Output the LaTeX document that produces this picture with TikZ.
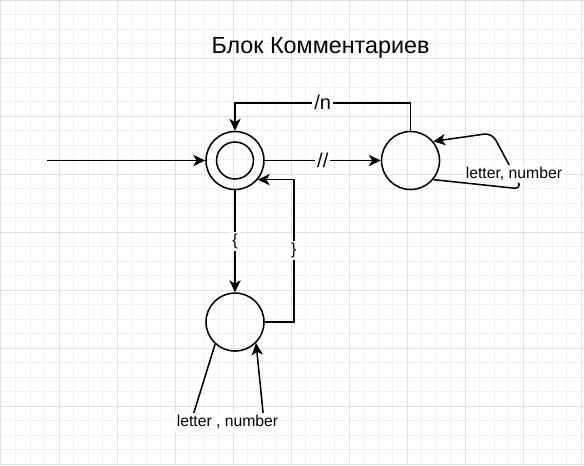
\documentclass[tikz,border=0pt]{standalone}
\usepackage{fontspec}
\setmainfont{Liberation Sans}
\usetikzlibrary{positioning, arrows.meta}

\begin{document}
\begin{tikzpicture}[
    x=0.75pt, y=-0.75pt,
    font=\fontsize{11.8pt}{14pt}\selectfont,
    st/.style={draw, circle, minimum size=43.5pt, inner sep=0pt, line width=1.15pt},
    ar/.style={-{Stealth[length=9pt, width=8.5pt, inset=2.5pt]}, line width=1.15pt},
    lbl/.style={fill=white, inner sep=1.5pt},
    big/.style={font=\fontsize{15pt}{17pt}\selectfont},
    minorgrid/.style={draw=black!6, line width=0.75pt, step=10.875pt},
    majorgrid/.style={draw=black!12, line width=0.75pt, step=43.5pt},
    node distance=76.5pt and 87pt,
  ]
  \useasboundingbox[fill=white] (-1,0) rectangle (583,465);
  % background grid
  \draw[minorgrid] (-1,0) grid (583,465);
  \draw[majorgrid] (-1,0) grid (583,465);

  \node[anchor=base, font=\fontsize{17.5pt}{20pt}\selectfont] (title) at (319.5,53) {Блок Комментариев};

  \node[st] (start) at (234,160.5) {};
  \node[st, minimum size=27.75pt] (starti) at (start) {};
  \node[st, right=of start] (acc) {};
  \node[st, below=of start] (bot) {};

  \coordinate (in) at (46,160.5);
  \coordinate (accloopa) at (521,189);
  \coordinate (accloopb) at (491,133);
  \coordinate (botloopa) at (190,422);
  \coordinate (botloopb) at (263,422);

  \draw[ar] (in) -- (start);
  \draw[ar] (start) -- node[lbl, big] {//} (acc);
  \draw[ar] (acc.north) -- ++(0,-28) -| node[lbl, big, pos=0.25] {/n} (start.north);
  \draw[ar] (start) -- node[lbl, font=\fontsize{12pt}{14pt}\selectfont] {\{} (bot);
  \draw[ar] (bot.east) -- ++(29,0) |- node[lbl, pos=0.25, font=\fontsize{12pt}{14pt}\selectfont] {\}} (start.-40);
  \draw[ar, rounded corners=6pt] (acc.-40) -- (accloopa) -- node[lbl, pos=0.27] {letter, number} (accloopb) -- (acc.40);
  \draw[ar] (bot.-132) -- (botloopa) -- node[lbl] {letter , number} (botloopb) -- (bot.-45);
\end{tikzpicture}
\end{document}
